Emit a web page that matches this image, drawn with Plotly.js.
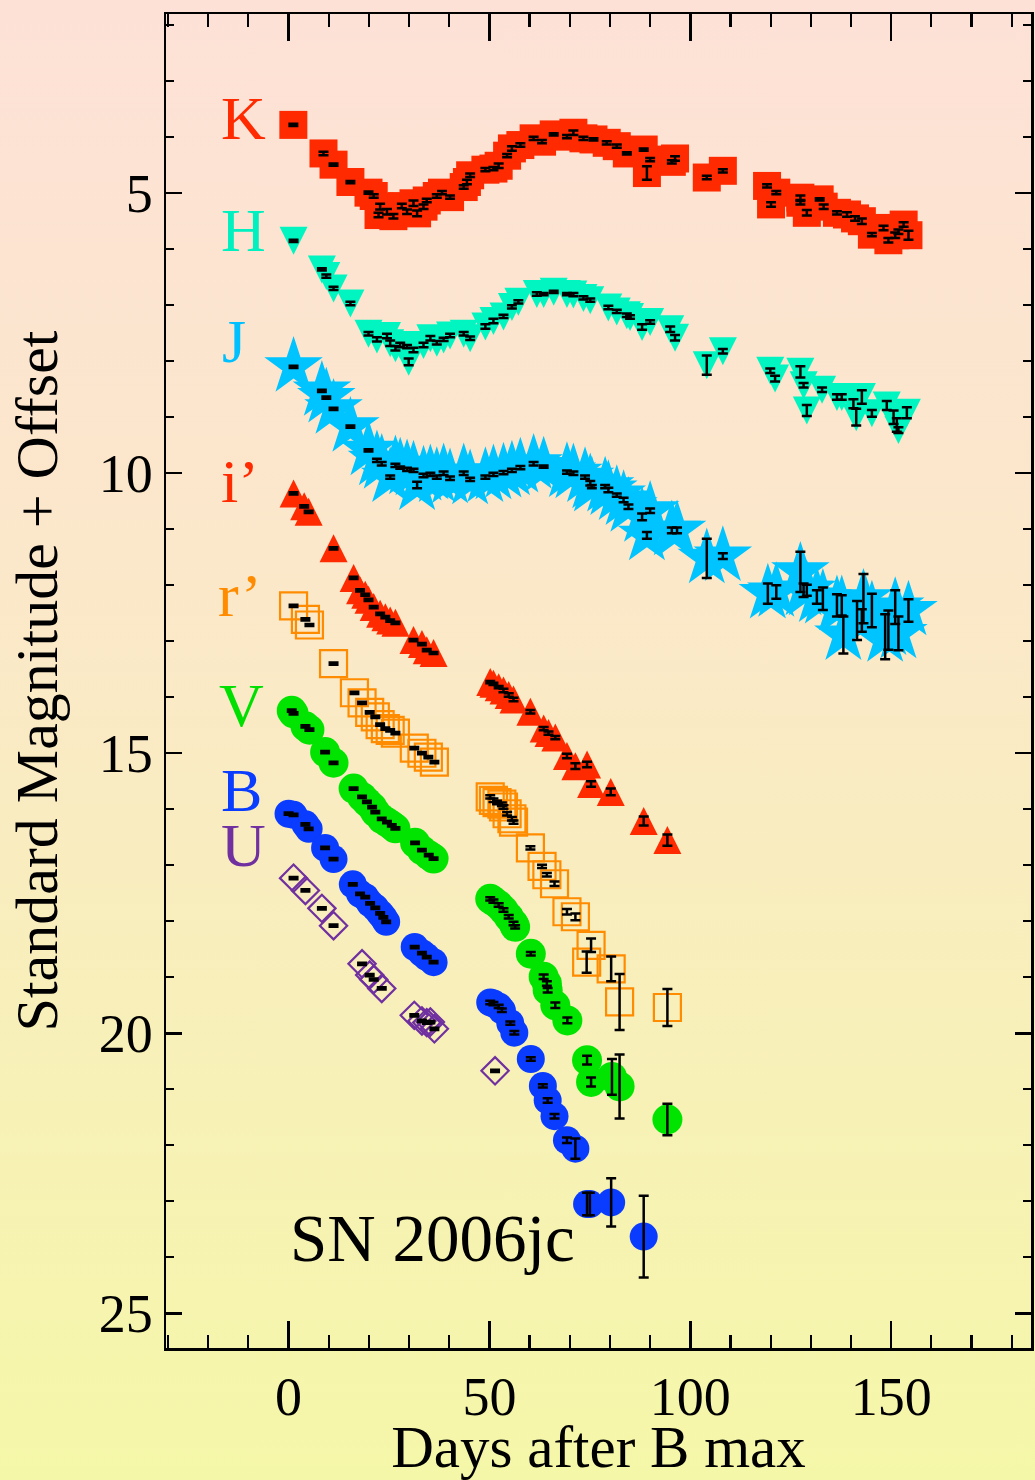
<!DOCTYPE html>
<html>
<head>
<meta charset="utf-8">
<script src="https://cdn.plot.ly/plotly-3.0.1.min.js"></script>
<style>
html, body { margin: 0; padding: 0; }
body { width: 1035px; height: 1480px; background: linear-gradient(to bottom, #fde1d7 0%, #fbe8c9 40%, #f7f1b6 75%, #f5f7a8 100%); }
#chart { width: 1035px; height: 1480px; }
</style>
</head>
<body>
<div id="chart"></div>
<script>
// ---- Data (days after B max, magnitude + offset, error) ----
const kDay = [1.2,8.7,11.2,15.4,19.9,21.2,22.8,22.4,24.5,26.1,28.2,29.5,31.1,32.0,33.6,34.4,36.9,38.2,40.2,43.6,44.4,45.2,49.0,51.0,52.3,54.4,55.6,57.7,61.0,63.1,66.0,69.3,70.9,73.4,75.9,79.2,81.7,84.2,88.4,90.0,89.2,95.4,96.2,104.1,108.1,119.1,121.4,120.1,127.4,127.4,129.0,132.2,133.2,136.5,139.0,141.0,142.7,145.2,148.1,149.3,151.0,151.8,153.1,154.3];
const kMag = [3.78,4.29,4.49,4.80,4.99,5.05,5.24,5.39,5.33,5.41,5.23,5.33,5.18,5.36,5.24,5.13,5.05,4.99,5.07,4.89,4.80,4.68,4.58,4.56,4.51,4.33,4.20,4.14,4.02,4.08,3.95,3.99,3.92,4.02,4.04,4.10,4.16,4.29,4.22,4.40,4.64,4.44,4.38,4.72,4.60,4.87,4.99,5.20,5.08,5.17,5.35,5.11,5.24,5.35,5.38,5.45,5.50,5.74,5.62,5.84,5.75,5.69,5.56,5.75];
const kErr = [.02,.03,.02,.02,.02,.03,.05,.04,.05,.04,.04,.04,.05,.05,.04,.03,.03,.03,.03,.03,.04,.03,.03,.03,.04,.03,.04,.03,.03,.03,.02,.03,.04,.03,.02,.03,.03,.02,.02,.03,.12,.03,.04,.03,.03,.03,.03,.04,.04,.03,.05,.02,.04,.03,.04,.04,.05,.03,.04,.04,.05,.04,.04,.08];

const hDay = [1.25,8.3,9.4,11.2,15.4,19.9,22.0,24.5,25.3,26.6,27.8,29.9,29.5,31.1,33.6,35.3,36.9,38.6,40.2,43.6,45.2,49.0,51.0,53.5,55.6,57.2,61.8,63.5,66.0,69.3,70.9,73.4,75.1,79.6,81.7,84.2,85.0,88.0,90.0,95.0,96.2,104.1,108.1,119.9,121.1,127.4,128.2,129.0,132.8,136.5,137.7,140.6,142.7,141.3,145.2,148.9,150.6,151.4,151.8,153.9];
const hMag = [5.85,6.36,6.48,6.70,6.97,7.51,7.61,7.55,7.68,7.77,7.71,8.01,7.74,7.80,7.71,7.59,7.67,7.61,7.54,7.51,7.59,7.38,7.28,7.20,7.03,6.94,6.80,6.80,6.76,6.80,6.81,6.87,6.91,7.04,7.11,7.18,7.21,7.39,7.30,7.43,7.58,8.07,7.82,8.17,8.31,8.19,8.43,8.88,8.51,8.64,8.64,8.76,8.64,9.00,8.93,8.79,9.00,9.14,9.23,8.92];
const hErr = [.02,.02,.03,.03,.03,.03,.04,.04,.05,.04,.04,.06,.03,.04,.04,.04,.03,.03,.03,.03,.03,.04,.04,.03,.03,.03,.03,.02,.02,.02,.03,.03,.03,.03,.03,.03,.03,.05,.03,.05,.05,.17,.04,.04,.05,.10,.04,.10,.04,.05,.05,.08,.12,.15,.06,.08,.12,.12,.05,.10];

const jDay = [1.25,8.3,9.4,11.2,15.4,19.9,22.0,23.2,25.3,26.6,27.8,29.5,31.1,32.0,33.6,35.3,36.9,38.6,40.2,43.6,45.2,49.0,51.0,53.5,55.6,57.7,61.0,63.5,69.3,70.9,73.8,75.1,75.5,78.8,79.6,81.7,83.4,84.6,88.0,90.0,89.2,95.4,96.7,104.1,108.1,119.3,121.4,127.4,128.2,129.0,131.5,133.0,136.5,137.7,138.1,141.5,142.7,143.1,145.2,148.5,149.3,151.0,151.8,154.3];
const jMag = [8.10,8.53,8.65,8.85,9.17,9.59,9.77,9.83,10.07,9.86,9.90,9.93,9.95,10.21,10.04,10.02,10.07,10.00,10.09,10.00,10.11,10.07,10.02,9.99,9.95,9.90,9.83,9.88,9.98,10.00,10.07,10.18,10.24,10.24,10.30,10.39,10.48,10.60,10.78,10.67,11.11,11.02,11.02,11.52,11.48,12.15,12.12,11.76,12.09,12.09,12.21,12.24,12.36,12.36,12.89,12.63,12.63,12.24,12.45,12.92,12.80,12.39,12.86,12.45];
const jErr = [.02,.02,.02,.02,.02,.02,.03,.03,.03,.03,.02,.03,.03,.06,.03,.03,.03,.03,.03,.03,.03,.03,.03,.03,.03,.03,.03,.02,.03,.03,.03,.04,.03,.03,.04,.03,.04,.04,.06,.04,.06,.05,.05,.35,.05,.18,.12,.36,.12,.10,.12,.20,.20,.18,.33,.35,.20,.44,.30,.40,.35,.30,.30,.20];

const iDay = [1.25,3.9,5.0,11.2,16.2,17.8,19.1,19.9,21.2,22.8,24.1,25.3,26.6,31.1,33.2,34.4,36.1,50.2,51.0,52.3,53.5,54.8,56.0,60.2,63.5,64.7,66.4,69.3,71.4,74.3,75.3,80.2,88.4,94.3];
const iMag = [10.36,10.59,10.69,11.34,11.87,12.09,12.17,12.26,12.39,12.51,12.57,12.63,12.67,12.98,13.05,13.16,13.21,13.73,13.76,13.82,13.88,13.96,14.04,14.26,14.56,14.64,14.72,15.05,15.23,15.20,15.55,15.69,16.21,16.55];
const iErr = [.02,.02,.02,.02,.02,.02,.02,.02,.02,.02,.02,.02,.02,.02,.02,.02,.02,.02,.02,.02,.03,.03,.03,.03,.03,.03,.03,.04,.05,.05,.05,.06,.08,.10];

const rDay = [1.25,4.2,5.2,11.2,16.4,18.3,20.2,21.6,22.8,24.1,25.3,26.6,31.3,33.2,34.8,36.3,50.2,51.0,51.9,53.1,53.5,54.4,55.6,56.0,60.2,63.1,64.3,66.2,69.3,71.4,75.3,74.2,80.3,82.4,94.3];
const rMag = [12.37,12.61,12.71,13.40,13.92,14.10,14.27,14.35,14.49,14.56,14.59,14.64,14.91,15.00,15.07,15.16,15.78,15.84,15.88,15.91,15.96,16.08,16.17,16.23,16.69,17.02,17.17,17.33,17.83,17.92,18.43,18.73,18.85,19.44,19.54];
const rErr = [.02,.02,.02,.02,.02,.02,.02,.02,.02,.02,.02,.02,.02,.02,.02,.02,.03,.03,.03,.03,.03,.03,.03,.03,.03,.03,.03,.04,.05,.06,.12,.19,.22,.50,.33];

const vDay = [0.8,1.25,4.2,5.2,9.1,11.2,16.2,18.3,19.5,20.8,21.6,23.2,24.5,25.7,26.6,31.5,33.2,34.9,36.1,50.2,51.0,52.3,53.5,54.8,56.0,56.4,60.3,63.5,64.3,64.5,66.4,69.4,74.3,75.3,80.5,82.4,94.3];
const vMag = [14.24,14.29,14.52,14.58,14.98,15.17,15.63,15.78,15.87,15.96,16.05,16.17,16.23,16.29,16.34,16.60,16.73,16.82,16.88,17.60,17.64,17.71,17.80,17.92,18.04,18.10,18.58,18.99,19.11,19.23,19.50,19.77,20.48,20.87,20.78,20.95,21.54];
const vErr = [.02,.02,.02,.02,.02,.02,.02,.02,.02,.02,.02,.02,.02,.02,.02,.02,.02,.02,.02,.03,.03,.03,.03,.03,.03,.03,.03,.04,.04,.04,.05,.05,.08,.08,.32,.57,.28];

const bDay = [0.0,1.25,4.2,5.0,9.1,11.2,16.0,17.8,19.1,20.3,21.6,22.8,23.6,24.3,31.4,33.2,34.4,36.1,50.2,51.0,52.3,53.1,55.2,56.2,60.3,63.3,64.5,66.2,69.3,71.4,74.3,75.0,80.3,88.4];
const bMag = [16.08,16.10,16.27,16.35,16.69,16.89,17.34,17.51,17.57,17.68,17.76,17.86,17.93,18.01,18.46,18.57,18.64,18.73,19.45,19.47,19.52,19.59,19.82,19.99,20.46,20.94,21.20,21.48,21.91,22.06,23.05,23.05,23.02,23.63];
const bErr = [.02,.02,.02,.02,.02,.02,.02,.02,.02,.02,.02,.02,.02,.02,.02,.02,.02,.02,.03,.03,.03,.03,.03,.03,.03,.03,.04,.04,.05,.18,.20,.20,.43,.73];

const uDay = [1.25,4.2,8.3,11.2,18.3,20.2,21.2,23.2,31.3,33.2,34.4,35.3,36.3,51.4];
const uMag = [17.23,17.45,17.77,18.08,18.76,18.96,19.04,19.20,19.68,19.78,19.81,19.80,19.92,20.67];
const uErr = [.02,.02,.02,.02,.02,.02,.02,.02,.02,.02,.02,.02,.02,.02];

const bandNames = ['K','H','J','i\u2019','r\u2019','V','B','U'];
const labelDay = [-11.3,-11.3,-13.5,-12.0,-12.0,-11.8,-11.8,-11.3];
const labelMag = [3.66,5.66,7.63,10.13,12.18,14.14,15.66,16.64];
const xTickVals = [0,50,100,150];
const yTickVals = [5,10,15,20,25];
const titleText = 'SN 2006jc';

// ---- Styles ----
const FONT = 'Liberation Serif, Times New Roman, serif';
// triangles: arrow symbols (square aspect) shifted by standoff so they are centred on the point
const bands = [
  {x:kDay,y:kMag,e:kErr,sym:'square',size:28,color:'#ff2a00',open:false},
  {x:hDay,y:hMag,e:hErr,sym:'arrow-down',size:28,angle:0,standoff:14,color:'#00f5c0',open:false},
  {x:jDay,y:jMag,e:jErr,sym:'star',size:44,color:'#00c4ff',open:false},
  {x:iDay,y:iMag,e:iErr,sym:'arrow-down',size:28,angle:180,standoff:14,color:'#ff2a00',open:false},
  {x:rDay,y:rMag,e:rErr,sym:'square-open',size:27,color:'#ff8c00',open:true},
  {x:vDay,y:vMag,e:vErr,sym:'circle',size:30,color:'#00e400',open:false},
  {x:bDay,y:bMag,e:bErr,sym:'circle',size:28,color:'#0a3cff',open:false},
  {x:uDay,y:uMag,e:uErr,sym:'diamond-open',size:21,color:'#7030a0',open:true}
];
const labelColors = ['#ff2a00','#00f0c0','#00c0ff','#ff2a00','#ff8c00','#00e000','#0a3cff','#7030a0'];

const traces = [];
bands.forEach(b => {
  const m = {symbol:b.sym, size:b.size, color:b.color, line:{width:b.open?2.2:0, color:b.color}};
  if (b.angle !== undefined) { m.angle = b.angle; m.standoff = b.standoff; }
  traces.push({type:'scatter', mode:'markers', x:b.x, y:b.y, showlegend:false, hoverinfo:'skip', marker:m});
});
bands.forEach(b => {
  traces.push({
    type:'scatter', mode:'markers', x:b.x, y:b.y, showlegend:false, hoverinfo:'skip',
    marker:{size:1, color:'rgba(0,0,0,0)'},
    error_y:{type:'data', array:b.e, visible:true, color:'#000', thickness:2.5, width:5}
  });
});

const annotations = bandNames.map((n,i) => ({
  x:labelDay[i], y:labelMag[i], xref:'x', yref:'y', text:n, showarrow:false,
  font:{family:FONT, size:62, color:labelColors[i]}, xanchor:'center', yanchor:'middle'
}));
annotations.push({x:35.8, y:23.66, xref:'x', yref:'y', text:titleText, showarrow:false,
  font:{family:FONT, size:67, color:'#000'}, xanchor:'center', yanchor:'middle'});

const layout = {
  width:1035, height:1480,
  margin:{l:166, r:4, t:14, b:132, pad:0},
  paper_bgcolor:'rgba(0,0,0,0)', plot_bgcolor:'rgba(0,0,0,0)',
  font:{family:FONT, color:'#000'},
  showlegend:false,
  xaxis:{
    range:[-30.5,184.8], tickmode:'array', tickvals:xTickVals, ticktext:xTickVals.map(String),
    ticks:'inside', ticklen:27, tickwidth:2.5, tickcolor:'#000',
    minor:{dtick:10, tick0:0, ticks:'inside', ticklen:13, tickwidth:2.2, tickcolor:'#000', showgrid:false},
    showline:true, linecolor:'#000', linewidth:2.5, mirror:'allticks',
    showgrid:false, zeroline:false,
    tickfont:{family:FONT, size:54, color:'#000'},
    title:{text:'Days after B max', font:{family:FONT, size:59, color:'#000'}, standoff:2}
  },
  yaxis:{
    range:[25.62,1.8], tickmode:'array', tickvals:yTickVals, ticktext:yTickVals.map(String),
    ticks:'inside', ticklen:16, tickwidth:2.5, tickcolor:'#000',
    minor:{dtick:1, tick0:0, ticks:'inside', ticklen:8, tickwidth:2.2, tickcolor:'#000', showgrid:false},
    showline:true, linecolor:'#000', linewidth:2.5, mirror:'allticks',
    showgrid:false, zeroline:false,
    tickfont:{family:FONT, size:54, color:'#000'},
    title:{text:'Standard Magnitude + Offset', font:{family:FONT, size:60, color:'#000'}, standoff:22}
  },
  annotations:annotations
};

Plotly.newPlot('chart', traces, layout, {staticPlot:true, displayModeBar:false});
</script>
</body>
</html>
